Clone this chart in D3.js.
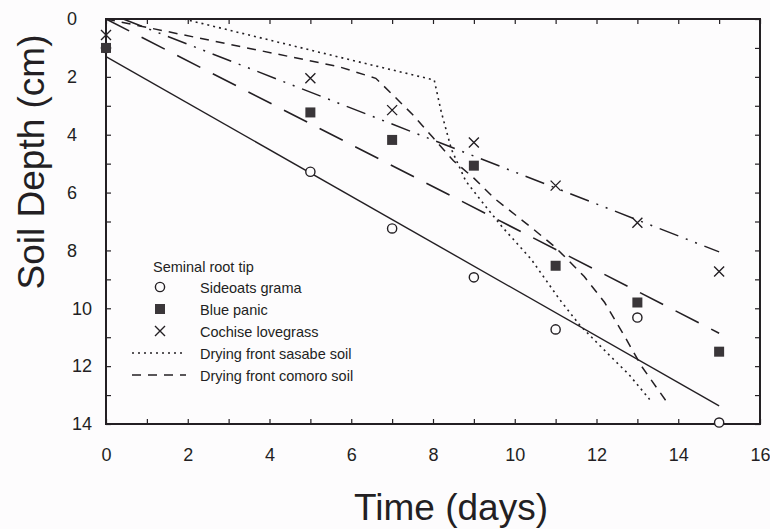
<!DOCTYPE html>
<html>
<head>
<meta charset="utf-8">
<script src="https://cdn.jsdelivr.net/npm/d3@7"></script>
<style>
  body { margin: 0; background: #fdfcfd; }
  svg { display: block; font-family: "Liberation Sans", Arial, sans-serif; }
</style>
</head>
<body>
<div id="chart"></div>
<script>
// sampling days and root tip depth (cm)
const days = [0, 5, 7, 9, 11, 13, 15];
const sideoats = [1.0, 5.28, 7.24, 8.93, 10.73, 10.32, 13.95];
const bluePanic = [1.0, 3.23, 4.18, 5.07, 8.53, 9.8, 11.5];
const cochise = [0.55, 2.05, 3.15, 4.27, 5.76, 7.04, 8.73];

// fitted lines [day, depth]
const sideoatsFit = [[0, 1.3], [15, 13.37]];
const bluePanicFit = [[0, 0], [15, 10.86]];
const cochiseFit = [[0.42, 0], [15, 8.05]];

// drying fronts [day, depth]
const sasabeFront = [[0, 0], [1.9, 0], [6, 1.42], [8.03, 2.11], [8.2, 3.2], [8.45, 4.5], [8.8, 5.6],
  [9.3, 6.5], [9.7, 7.2], [10.4, 8.3], [11.1, 9.7], [11.6, 10.6], [12.3, 11.6], [12.8, 12.3], [13.3, 13.15]];
const comoroFront = [[0, 0], [5.7, 1.65], [6.6, 2.05], [7.0, 2.6], [7.5, 3.3], [8.0, 4.1], [8.5, 4.9],
  [9.0, 5.5], [9.5, 6.2], [10.4, 7.2], [11.0, 7.9], [11.7, 8.9], [12.2, 9.8], [12.7, 11.0], [13.1, 12.0], [13.7, 13.2]];

const xTicks = [0, 2, 4, 6, 8, 10, 12, 14, 16];
const yTicks = [0, 2, 4, 6, 8, 10, 12, 14];
const legendTitle = "Seminal root tip";
const legendLabels = ["Sideoats grama", "Blue panic", "Cochise lovegrass", "Drying front sasabe soil", "Drying front comoro soil"];

const W = 770, H = 529;
const margin = { top: 19, right: 10, bottom: 105, left: 106 };
const width = W - margin.left - margin.right;
const height = H - margin.top - margin.bottom;
const ink = "#231f23";

const svg = d3.select("#chart").append("svg")
  .attr("width", W).attr("height", H);

const g = svg.append("g")
  .attr("transform", `translate(${margin.left},${margin.top})`);

const x = d3.scaleLinear().domain([0, 16]).range([0, width]);
const y = d3.scaleLinear().domain([0, 14]).range([0, height]);

// minor inside ticks on all four sides
const minorX = d3.range(0, 17);
const minorY = d3.range(0, 15);
g.append("g").attr("transform", `translate(0,${height})`)
  .call(d3.axisBottom(x).tickValues(minorX).tickSize(-5).tickFormat(""))
  .call(a => a.select(".domain").remove());
g.append("g")
  .call(d3.axisTop(x).tickValues(minorX).tickSize(-5).tickFormat(""))
  .call(a => a.select(".domain").remove());
g.append("g")
  .call(d3.axisLeft(y).tickValues(minorY).tickSize(-5).tickFormat(""))
  .call(a => a.select(".domain").remove());
g.append("g").attr("transform", `translate(${width},0)`)
  .call(d3.axisRight(y).tickValues(minorY).tickSize(-5).tickFormat(""))
  .call(a => a.select(".domain").remove());
g.selectAll(".tick line").attr("stroke", ink).attr("stroke-width", 1.2);

// tick labels
const xAxis = g.append("g").attr("transform", `translate(0,${height})`)
  .call(d3.axisBottom(x).tickValues(xTicks).tickSize(0).tickPadding(24));
xAxis.select(".domain").remove();
xAxis.selectAll("text").attr("font-size", 18).attr("fill", ink).attr("font-family", "Liberation Sans, Arial, sans-serif");

const yAxis = g.append("g")
  .call(d3.axisLeft(y).tickValues(yTicks).tickSize(0).tickPadding(14));
yAxis.select(".domain").remove();
yAxis.selectAll("text").attr("font-size", 18).attr("fill", ink)
  .attr("font-family", "Liberation Sans, Arial, sans-serif")
  .attr("text-anchor", "middle")
  .attr("x", d => d >= 10 ? -24 : -34);

// frame
g.append("rect").attr("width", width).attr("height", height)
  .attr("fill", "none").attr("stroke", ink).attr("stroke-width", 2);

const line = d3.line().x(d => x(d[0])).y(d => y(d[1]));

const styles = {
  bluePanic: "26,14",
  cochise: "20,8,2,8,2,8",
  sasabe: "2,4",
  comoro: "9,7"
};

const plot = g.append("g");
plot.append("path").datum(sideoatsFit).attr("d", line)
  .attr("fill", "none").attr("stroke", ink).attr("stroke-width", 1.4);
plot.append("path").datum(bluePanicFit).attr("d", line)
  .attr("fill", "none").attr("stroke", ink).attr("stroke-width", 1.6).attr("stroke-dasharray", styles.bluePanic);
plot.append("path").datum(cochiseFit).attr("d", line)
  .attr("fill", "none").attr("stroke", ink).attr("stroke-width", 1.5).attr("stroke-dasharray", styles.cochise);
plot.append("path").datum(sasabeFront).attr("d", line)
  .attr("fill", "none").attr("stroke", ink).attr("stroke-width", 1.6).attr("stroke-dasharray", styles.sasabe);
plot.append("path").datum(comoroFront).attr("d", line)
  .attr("fill", "none").attr("stroke", ink).attr("stroke-width", 1.5).attr("stroke-dasharray", styles.comoro);

// markers
const drawCircle = (sel, cx, cy) => sel.append("circle").attr("cx", cx).attr("cy", cy).attr("r", 4.6)
  .attr("fill", "#fdfcfd").attr("stroke", ink).attr("stroke-width", 1.4);
const drawSquare = (sel, cx, cy) => sel.append("rect").attr("x", cx - 5).attr("y", cy - 5)
  .attr("width", 10).attr("height", 10).attr("fill", "#3a3639");
const drawCross = (sel, cx, cy) => sel.append("path")
  .attr("d", `M${cx - 5},${cy - 5}L${cx + 5},${cy + 5}M${cx - 5},${cy + 5}L${cx + 5},${cy - 5}`)
  .attr("stroke", ink).attr("stroke-width", 1.4);

days.forEach((d, i) => drawCircle(plot, x(d), y(sideoats[i])));
days.forEach((d, i) => drawSquare(plot, x(d), y(bluePanic[i])));
days.forEach((d, i) => drawCross(plot, x(d), y(cochise[i])));

// legend
const legend = svg.append("g").attr("font-size", 14.5).attr("fill", ink);
legend.append("text").attr("x", 153).attr("y", 272).text(legendTitle);
const markers = [drawCircle, drawSquare, drawCross];
legendLabels.forEach((label, i) => {
  const ly = 287 + i * 22;
  if (i < 3) {
    markers[i](legend, 160, ly);
  } else {
    legend.append("line").attr("x1", 132).attr("x2", 186).attr("y1", ly).attr("y2", ly)
      .attr("stroke", ink).attr("stroke-width", 1.3)
      .attr("stroke-dasharray", i === 3 ? "2,4" : "9,7");
  }
  legend.append("text").attr("x", 200).attr("y", ly + 6).text(label);
});

// axis titles
svg.append("text").attr("x", 451).attr("y", 520).attr("text-anchor", "middle")
  .attr("font-size", 37).attr("fill", ink).text("Time (days)");
svg.append("text").attr("transform", "translate(44,162) rotate(-90)").attr("text-anchor", "middle")
  .attr("font-size", 37).attr("fill", ink).text("Soil Depth (cm)");
</script>
</body>
</html>
